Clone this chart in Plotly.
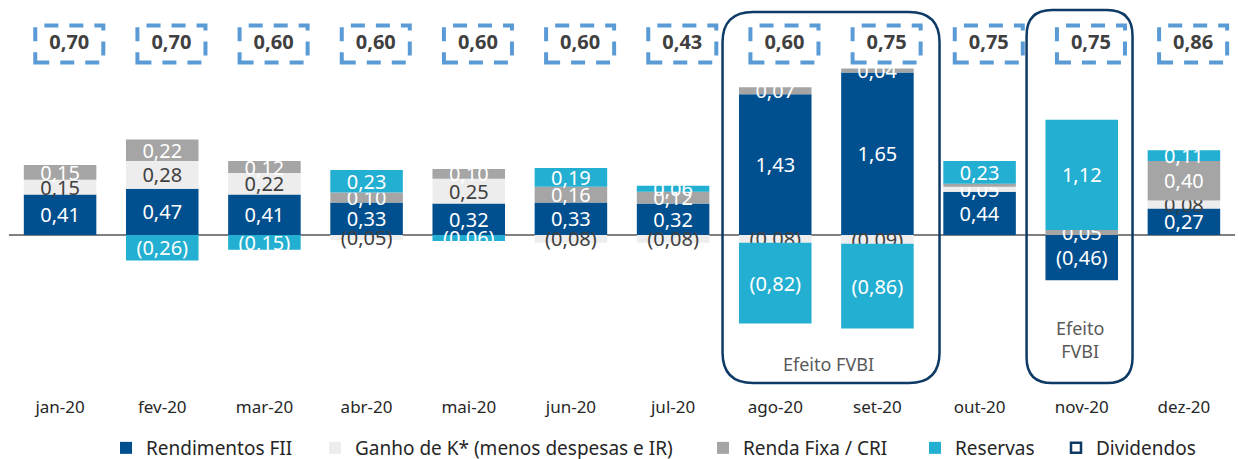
import plotly.graph_objects as go

months = ["jan-20", "fev-20", "mar-20", "abr-20", "mai-20", "jun-20",
          "jul-20", "ago-20", "set-20", "out-20", "nov-20", "dez-20"]
rendimentos = [0.41, 0.47, 0.41, 0.33, 0.32, 0.33, 0.32, 1.43, 1.65, 0.44, -0.46, 0.27]
ganho_k = [0.15, 0.28, 0.22, -0.05, 0.25, -0.08, -0.08, -0.08, -0.09, 0.05, 0.00, 0.08]
renda_fixa = [0.15, 0.22, 0.12, 0.10, 0.10, 0.16, 0.12, 0.07, 0.04, 0.03, 0.05, 0.40]
reservas = [0.00, -0.26, -0.15, 0.23, -0.06, 0.19, 0.06, -0.82, -0.86, 0.23, 1.12, 0.11]
dividendos = [0.70, 0.70, 0.60, 0.60, 0.60, 0.60, 0.43, 0.60, 0.75, 0.75, 0.75, 0.86]

C_REND = "#004F8F"
C_GANHO = "#EDEDED"
C_RF = "#A5A5A5"
C_RES = "#23AFD1"
C_DIV = "#5B9BD5"
C_NAVY = "#0E3A66"
FONT = "Noto Sans"

W, H = 1238, 459
ML, MR, MT, MB = 9, 3, 5, 69
Y_RANGE = [-1.574, 2.335]

x = list(range(len(months)))


def fmt(v):
    if abs(v) < 0.035:
        return ""
    s = f"{abs(v):.2f}".replace(".", ",")
    return f"({s})" if v < 0 else s


def legend_x(px):
    return (px - ML) / (W - ML - MR)


LEG_Y = (390 - 448) / (390 - MT)
legend_px = [106, 315, 703, 915, 1056]

fig = go.Figure()


def add_bar(name, vals, color, txtcolors, leg):
    fig.add_trace(go.Bar(
        name=name, x=x, y=vals, marker=dict(color=color, line=dict(width=0)),
        text=[fmt(v) for v in vals], textposition="inside",
        insidetextanchor="middle", constraintext="none", textangle=0,
        textfont=dict(family=FONT, size=20, color=txtcolors),
        hoverinfo="skip", cliponaxis=False, legend=leg,
    ))


add_bar("Rendimentos FII", rendimentos, C_REND, "white", "legend")
add_bar("Ganho de K* (menos despesas e IR)", ganho_k, C_GANHO,
        ["white" if m == "out-20" else "#404040" for m in months], "legend2")
add_bar("Renda Fixa / CRI", renda_fixa, C_RF, "white", "legend3")
add_bar("Reservas", reservas, C_RES, "white", "legend4")

DIV_Y = 1.94
DIV_DX = 0.09
div_x = [i + DIV_DX for i in x]
fig.add_trace(go.Scatter(
    x=div_x, y=[DIV_Y] * len(x), mode="text",
    text=[f"{d:.2f}".replace(".", ",") for d in dividendos],
    textfont=dict(family=FONT, size=20, color="#404040", weight="bold"),
    showlegend=False, hoverinfo="skip", cliponaxis=False,
))
fig.add_trace(go.Scatter(
    x=[None], y=[None], mode="markers", name="Dividendos", legend="legend5",
    marker=dict(symbol="square", size=10, color="#FFFFFF",
                line=dict(color=C_NAVY, width=2.5)),
))

shapes = []
for cx in div_x:
    shapes.append(dict(type="rect", xref="x", yref="y",
                       x0=cx - 0.333, x1=cx + 0.333, y0=DIV_Y - 0.188, y1=DIV_Y + 0.188,
                       line=dict(color=C_DIV, width=4, dash="14px,11px"),
                       layer="above"))


def rounded(x0, x1, y0, y1, rx, ry):
    return (f"M {x0+rx},{y1} L {x1-rx},{y1} Q {x1},{y1} {x1},{y1-ry} "
            f"L {x1},{y0+ry} Q {x1},{y0} {x1-rx},{y0} L {x0+rx},{y0} "
            f"Q {x0},{y0} {x0},{y0+ry} L {x0},{y1-ry} Q {x0},{y1} {x0+rx},{y1} Z")


shapes.append(dict(type="path", xref="x", yref="y",
                   path=rounded(6.484, 8.608, -1.503, 2.264, 0.30, 0.31),
                   line=dict(color=C_NAVY, width=2.5)))
shapes.append(dict(type="path", xref="x", yref="y",
                   path=rounded(9.46, 10.497, -1.503, 2.284, 0.25, 0.26),
                   line=dict(color=C_NAVY, width=2.5)))

annotations = [
    dict(x=7.517, y=-1.31, xref="x", yref="y", text="Efeito FVBI", showarrow=False,
         font=dict(family=FONT, size=18, color="#595959")),
    dict(x=9.978, y=-1.06, xref="x", yref="y", text="Efeito<br>FVBI", showarrow=False,
         font=dict(family=FONT, size=18, color="#595959")),
]

leg_common = dict(orientation="h", xanchor="left", y=LEG_Y, yanchor="middle",
                  font=dict(family=FONT, size=19, color="#262626"),
                  bgcolor="rgba(0,0,0,0)", itemwidth=30)

fig.update_layout(
    width=W, height=H,
    margin=dict(l=ML, r=MR, t=MT, b=MB, autoexpand=False),
    barmode="relative", bargap=0.29,
    plot_bgcolor="white", paper_bgcolor="white",
    shapes=shapes, annotations=annotations,
    font=dict(family=FONT, color="#262626"),
    legend=dict(x=legend_x(legend_px[0]), **leg_common),
    legend2=dict(x=legend_x(legend_px[1]), **leg_common),
    legend3=dict(x=legend_x(legend_px[2]), **leg_common),
    legend4=dict(x=legend_x(legend_px[3]), **leg_common),
    legend5=dict(x=legend_x(legend_px[4]), **leg_common),
    xaxis=dict(range=[-0.5, 11.5], tickvals=x, ticktext=months, showgrid=False,
               showline=False, ticks="", ticklabelstandoff=5,
               tickfont=dict(family=FONT, size=17, color="#262626"), zeroline=False),
    yaxis=dict(range=Y_RANGE, showgrid=False, showticklabels=False,
               zeroline=True, zerolinecolor="#808080", zerolinewidth=2, ticks=""),
)

fig.write_html("out.html", config={"displayModeBar": False},
               post_script="document.body.style.margin='0';document.body.style.overflow='hidden';")
